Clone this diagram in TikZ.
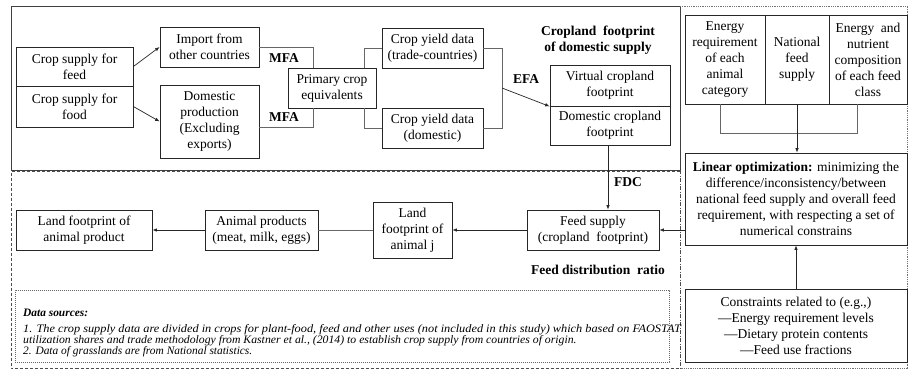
\documentclass[tikz,border=0pt]{standalone}
\usepackage{fontspec}
\usepackage{graphicx}
\setmainfont{Liberation Serif}
\usetikzlibrary{arrows.meta,calc}
\newcommand\bxfont{\fontsize{13.5}{16}\selectfont}
\newcommand\bxbold{\fontsize{13.5}{16}\selectfont\bfseries}
\newcommand\dsfont{\fontsize{11.4}{11}\selectfont\itshape}
\begin{document}
\begin{tikzpicture}[x=1pt,y=-1pt,
  box/.style={draw=black!85, line width=0.8pt, align=center, inner sep=1pt, font=\bxfont},
  conn/.style={draw=black!60, line width=0.7pt},
  arr/.style={draw=black!85, line width=0.7pt, -{Latex[length=4.5pt,width=3.5pt]}},
  lbl/.style={font=\bxbold, inner sep=0pt, align=center},
  dstext/.style={font=\dsfont, inner sep=0pt, anchor=west}]
\useasboundingbox (0,0) rectangle (908,372);
\fill[white] (0,0) rectangle (908,372);

% frames
\draw[black!75, line width=0.9pt] (11,6) rectangle (680,170);
\draw[black!70, line width=0.8pt, dash pattern=on 3pt off 2pt] (680,171.5) -- (11,171.5) -- (11,368) -- (680,368);
\draw[black!70, line width=0.7pt, dash pattern=on 4pt off 1.5pt on 1pt off 1.5pt] (680,170) -- (680,368);
\draw[black!55, line width=0.7pt, dash pattern=on 1pt off 0.8pt] (680,6) -- (907.5,6) -- (907.5,368) -- (680,368);

% top-left nodes
\node[box, minimum width=117, minimum height=39] (feed) at (74.5,66.5) {Crop supply for\\feed};
\node[box, minimum width=117, minimum height=41] (food) at (74.5,106.5) {Crop supply for\\food};
\node[box, minimum width=99, minimum height=40] (import) at (209.5,47) {Import from\\other countries};
\node[box, minimum width=99, minimum height=73] (domestic) at (209.5,121.5) {Domestic\\production\\(Excluding\\exports)};
\node[box, minimum width=88, minimum height=40] (primary) at (332,88) {Primary crop\\equivalents};
\node[box, minimum width=101, minimum height=40] (cyt) at (432.5,48) {Crop yield data\\(trade-countries)};
\node[box, minimum width=101, minimum height=40] (cyd) at (432.5,128) {Crop yield data\\(domestic)};
\node[box, minimum width=120, minimum height=41] (virtual) at (610,85.5) {Virtual cropland\\footprint};
\node[box, minimum width=120, minimum height=39] (domcf) at (610,125.5) {Domestic cropland\\footprint};

\node[lbl] (mfa1) at (284,58) {MFA};
\node[lbl] (mfa2) at (284,117) {MFA};
\node[lbl] (efalbl) at (526,79) {EFA};
\node[lbl] (title) at (598,40) {Cropland\ \ footprint\\of domestic supply};

% bottom-left nodes
\node[box, minimum width=132, minimum height=40] (feedsup) at (593,230) {Feed supply\\(cropland\ \ footprint)};
\node[box, minimum width=79, minimum height=56] (animj) at (412.5,230) {Land\\footprint of\\animal j};
\node[box, minimum width=113, minimum height=40] (animprod) at (261.5,230) {Animal products\\(meat, milk, eggs)};
\node[box, minimum width=136, minimum height=40] (landprod) at (84,230) {Land footprint of\\animal product};
\node[lbl] (fdc) at (628,182) {FDC};
\node[lbl] (fdr) at (598,270) {Feed distribution\ \ ratio};

\node[draw=black!60, line width=0.7pt, dash pattern=on 1.2pt off 0.8pt, minimum width=654, minimum height=72, inner sep=0pt] (data) at (342,326) {};
\node[dstext] (ds0) at (23,313) {\bfseries Data sources:};
\node[dstext] (ds1) at (23,330) {\scalebox{1.08}[1]{1. The crop supply data are divided in crops for plant-food, feed and other uses (not included in this study) which based on FAOSTAT}};
\node[dstext] (ds2) at (23,341) {\scalebox{1.03}[1]{utilization shares and trade methodology from Kastner et al., (2014) to establish crop supply from countries of origin.}};
\node[dstext] (ds3) at (23,352) {2. Data of grasslands are from National statistics.};

% right panel nodes
\node[box, minimum width=80, minimum height=89] (e1) at (725,59.5) {Energy\\requirement\\of each\\animal\\category};
\node[box, minimum width=64, minimum height=89] (e2) at (797,59.5) {National\\feed\\supply};
\node[box, minimum width=78, minimum height=89] (e3) at (868,59.5) {Energy\ \ and\\nutrient\\composition\\of each feed\\class};
\node[box, minimum width=222, minimum height=92] (linear) at (796,199) {\textbf{Linear optimization:} minimizing the\\difference/inconsistency/between\\national feed supply and overall feed\\requirement, with respecting a set of\\numerical constrains};
\node[box, minimum width=222, minimum height=73] (cons) at (796,325.5) {Constraints related to (e.g.,)\\—Energy requirement levels\\—Dietary protein contents\\—Feed use fractions};

% connectors top-left
\draw[arr] (feed.east) -- (import.west);
\draw[arr] (food.east) -- (domestic.west);
\draw[conn] (import.east) -| ($(primary.north west)+(26,0)$);
\draw[conn] ([yshift=-5.5pt]domestic.east) -| ($(primary.south west)+(26,0)$);
\draw[conn] ($(primary.north east)+(-12,0)$) |- (cyt.west);
\draw[conn] ($(primary.south east)+(-12,0)$) |- (cyd.west);
\draw[conn] (cyt.east) -- ++(19,0) coordinate (br) |- (cyd.east);
\coordinate (efa) at (502,88);
\draw[arr] (efa) -- (virtual.south west);
\draw[arr] ([xshift=-2pt]domcf.south) -- ([xshift=-2pt]domcf.south |- feedsup.north);

% connectors bottom-left
\draw[arr] (linear.west |- feedsup.east) -- (feedsup.east);
\draw[arr] (feedsup.west) -- (animj.east);
\draw[conn] (animj.west) -- (animprod.east);
\draw[arr, line width=1pt] (animprod.west) -- (landprod.east);

% connectors right panel
\draw[conn] ([xshift=-5pt]e1.south) -- ++(0,29) -| ([xshift=-11pt]e3.south);
\draw[arr] (e2.south) -- (e2.south |- linear.north);
\draw[arr] (cons.north) -- (cons.north |- linear.south);
\end{tikzpicture}
\end{document}
